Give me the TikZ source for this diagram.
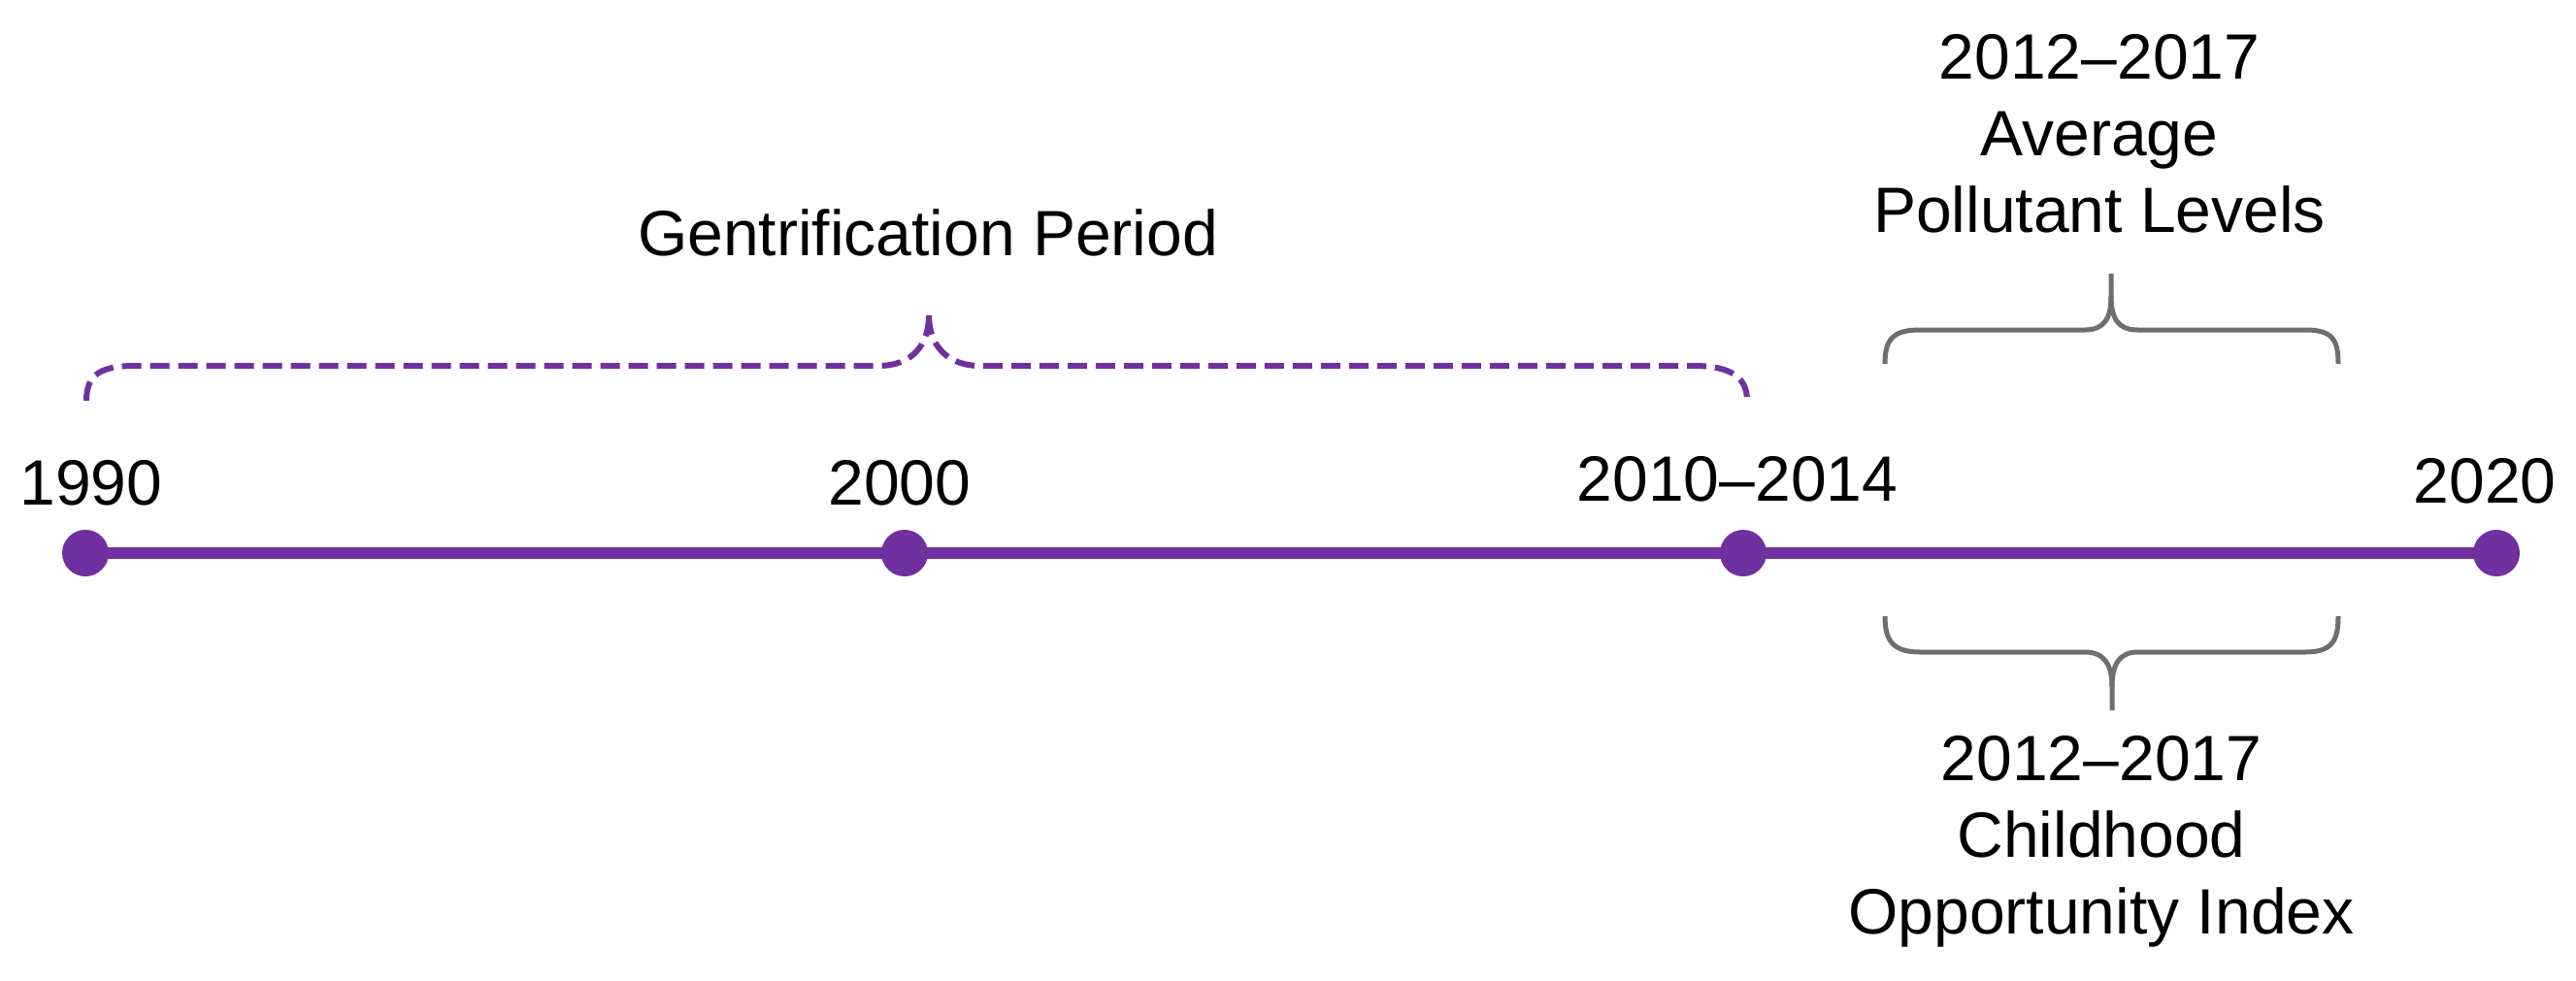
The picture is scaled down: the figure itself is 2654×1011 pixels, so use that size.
\documentclass[tikz,border=0pt]{standalone}
\usepackage{fontspec}
\setmainfont{Liberation Sans}
\usetikzlibrary{backgrounds}
\definecolor{tlpurple}{HTML}{7030A0}
\definecolor{bracegray}{HTML}{6E6E6E}
\begin{document}
\begin{tikzpicture}[x=0.5pt,y=-0.5pt,
  dot/.style={circle,fill=tlpurple,inner sep=0pt,minimum size=24pt},
  yearlabel/.style={anchor=base,inner sep=0pt,font=\fontsize{33}{39.5}\selectfont},
  blocklabel/.style={anchor=north,align=center,inner sep=0pt,font=\fontsize{33}{39.5}\selectfont},
  timeline/.style={line width=6pt,draw=tlpurple},
  graybrace/.style={draw=bracegray,line width=2.5pt},
  purplebrace/.style={draw=tlpurple,line width=3pt,dash pattern=on 10pt off 4.5pt}]
\useasboundingbox (0,0) rectangle (2654,1011);
% dots
\node[dot] (d1990) at (88,570) {};
\node[dot] (d2000) at (932,570) {};
\node[dot] (d2010) at (1796,570) {};
\node[dot] (d2020) at (2572,570) {};
\begin{pgfonlayer}{background}
\fill[white] (0,0) rectangle (2654,1011);
\draw[timeline] (d1990.center) -- (d2020.center);
\end{pgfonlayer}
% year labels
\node[yearlabel] (l1990) at (94,520) {1990};
\node[yearlabel] (l2000) at (927,520) {2000};
\node[yearlabel] (l2010) at (1790,516) {2010–2014};
\node[yearlabel] (l2020) at (2560,518) {2020};
% gentrification brace
\node[yearlabel] (gent) at (956,263) {Gentrification Period};
\draw[purplebrace] (89,413) .. controls (89,385) and (105,377) .. (140,377)
  -- (905,377) .. controls (940,377) and (957,355) .. (957,325);
\draw[purplebrace] (957,325) .. controls (957,355) and (975,377) .. (1010,377)
  -- (1745,377) .. controls (1785,377) and (1800,390) .. (1800,413);
% top gray brace
\node[blocklabel] (pollut) at (2163,35) {2012–2017\\Average\\Pollutant Levels};
\draw[graybrace] (1942,375) .. controls (1942,350) and (1950,340) .. (1978,340)
  -- (2148,340) .. controls (2168,340) and (2175,328) .. (2175,305) -- (2175,282);
\draw[graybrace] (2175,305) .. controls (2175,328) and (2182,340) .. (2202,340)
  -- (2375,340) .. controls (2403,340) and (2409,350) .. (2409,375);
% bottom gray brace
\draw[graybrace] (1942,635) .. controls (1942,660) and (1950,672) .. (1978,672)
  -- (2148,672) .. controls (2168,672) and (2176,685) .. (2176,708) -- (2176,732);
\draw[graybrace] (2176,708) .. controls (2176,685) and (2183,672) .. (2203,672)
  -- (2375,672) .. controls (2403,672) and (2409,660) .. (2409,635);
\node[blocklabel] (coi) at (2165,758) {2012–2017\\Childhood\\Opportunity Index};
\end{tikzpicture}
\end{document}
